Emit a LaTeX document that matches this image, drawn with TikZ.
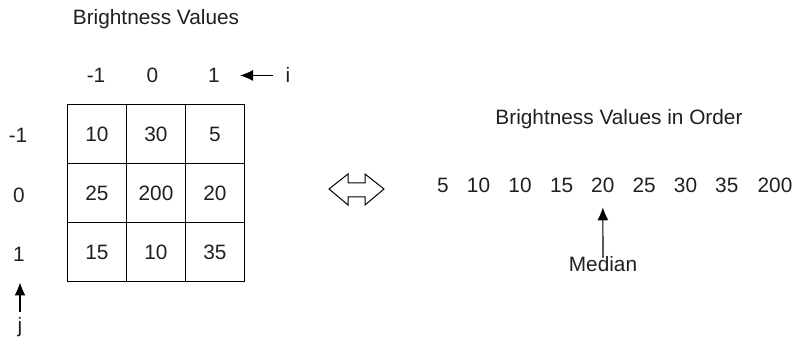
\documentclass[tikz,border=0pt]{standalone}
\usepackage{fontspec}
\setmainfont{Liberation Sans}
\usetikzlibrary{arrows.meta}

\begin{document}
\begin{tikzpicture}[x=0.5pt,y=-0.5pt,
        every node/.style={font=\fontsize{10.4}{12}\selectfont, text=black!88},
        cell/.style={draw=black, line width=0.5pt, minimum size=29.5pt, inner sep=0pt},
        lbl/.style={anchor=base},
        pointer/.style={line width=0.55pt, -{Latex[length=6.5pt,width=5.5pt]}}]
        \useasboundingbox (0,0) rectangle (793,347);
        % Window
        \node[lbl] (title) at (156,25) {Brightness Values};
        \node[lbl] (im1) at (96,83) {-1};
        \node[lbl] (i0) at (152.5,83) {0};
        \node[lbl] (ip1) at (214,83) {1};
        \node[lbl] (i) at (288,83) {i};
        \draw[pointer, shorten <=3pt] (i.west) -- (i.west -| 240,0);
        \node[lbl] (jm1) at (18,143) {-1};
        \node[lbl] (j0) at (19,203) {0};
        \node[lbl] (jp1) at (19,262) {1};
        \node[lbl, inner sep=3pt] (j) at (20,333) {j};
        \node[cell] (c11) at (97,134.5) {10};
        \node[cell] (c12) at (156,134.5) {30};
        \node[cell] (c13) at (215,134.5) {5};
        \node[cell] (c21) at (97,193.5) {25};
        \node[cell] (c22) at (156,193.5) {200};
        \node[cell] (c23) at (215,193.5) {20};
        \node[cell] (c31) at (97,252.5) {15};
        \node[cell] (c32) at (156,252.5) {10};
        \node[cell] (c33) at (215,252.5) {35};
        \draw[pointer] (j.north) -- (j.north |- c31.south);
        % Swap
        \draw[line width=0.5pt] (329,189) -- (348,174) -- (348,183) -- (365,183) -- (365,174)
            -- (384,189) -- (365,205) -- (365,197) -- (348,197) -- (348,205) -- cycle;
        % Order
        \node[lbl] (order) at (619,125) {Brightness Values in Order};
        \node[lbl] (v1) at (443,193) {5};
        \node[lbl] (v2) at (478.5,193) {10};
        \node[lbl] (v3) at (520,193) {10};
        \node[lbl] (v4) at (561.7,193) {15};
        \node[lbl] (v5) at (602.8,193) {20};
        \node[lbl] (v6) at (644.2,193) {25};
        \node[lbl] (v7) at (685.5,193) {30};
        \node[lbl] (v8) at (726.8,193) {35};
        \node[lbl] (v9) at (775,193) {200};
        \node[lbl] (median) at (603,272) {Median};
        \draw[pointer, shorten <=-4pt, shorten >=3.5pt] (median.north) -- (v5.south);
    \end{tikzpicture}
\end{document}
